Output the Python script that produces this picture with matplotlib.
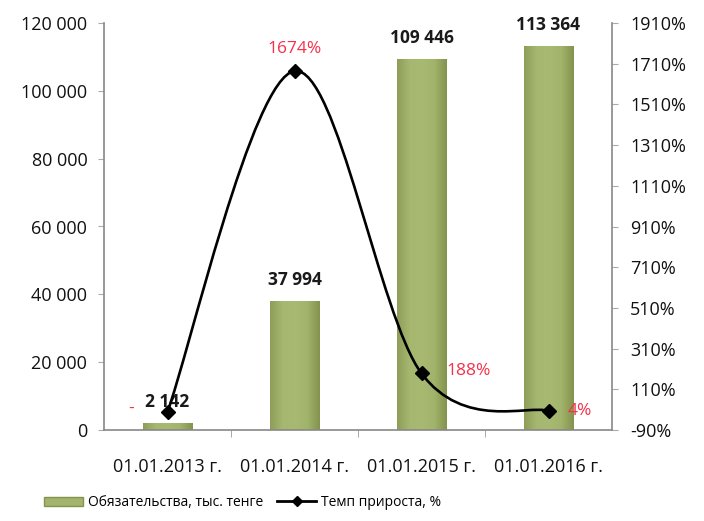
import matplotlib
matplotlib.use("Agg")
import matplotlib.pyplot as plt
import numpy as np
from matplotlib.path import Path
from matplotlib.patches import PathPatch, Patch
from matplotlib.lines import Line2D
from matplotlib.ticker import FuncFormatter, FixedLocator
from matplotlib.colors import LinearSegmentedColormap

plt.rcParams['font.family'] = ['Open Sans', 'DejaVu Sans']

categories = ["01.01.2013 г.", "01.01.2014 г.", "01.01.2015 г.", "01.01.2016 г."]
liabilities = [2142, 37994, 109446, 113364]
growth = [0, 1674, 188, 4]
growth_labels = ["-", "1674%", "188%", "4%"]
bar_name = "Обязательства, тыс. тенге"
line_name = "Темп прироста, %"

fig = plt.figure(figsize=(7.04, 5.21), dpi=100)
ax = fig.add_axes([104/704, 1-430/521, (612-104)/704, (430-23)/521])
ax2 = ax.twinx()

x = np.arange(len(categories))
bw = 0.39
bars = ax.bar(x, liabilities, width=bw, color="#A3B46C", edgecolor="none", zorder=2)

# gradient fill for bars
cmap = LinearSegmentedColormap.from_list("g", ["#8E9E5A", "#A6B76F", "#A8B972", "#A2B36B", "#84944F"])
grad = np.linspace(0, 1, 64).reshape(1, -1)
for b in bars:
    x0, y0, w, h = b.get_x(), b.get_y(), b.get_width(), b.get_height()
    im = ax.imshow(grad, extent=[x0, x0 + w, y0, y0 + h], aspect='auto', cmap=cmap,
                   zorder=2.1, interpolation='bicubic')
    im.set_clip_path(b)

ax.set_xlim(-0.5, len(categories) - 0.5)
ax.set_ylim(0, 120000)
ax.yaxis.set_major_locator(FixedLocator(np.arange(0, 120001, 20000)))
ax.yaxis.set_major_formatter(FuncFormatter(lambda v, p: f"{int(v):,}".replace(",", " ")))

ax.set_xticks(x)
ax.set_xticklabels(categories, fontsize=13, color="#111111")
ax.set_xticks(np.arange(0.5, len(categories) - 0.5, 1), minor=True)
ax.tick_params(axis='x', which='major', length=0, pad=20)
ax.tick_params(axis='x', which='minor', length=5, color="#999999", direction='out')
ax.tick_params(axis='y', length=4, color="#aaaaaa", labelsize=13, labelcolor="#111111", pad=8)

ax2.set_ylim(-90, 1910)
ax2.yaxis.set_major_locator(FixedLocator(np.arange(-90, 1911, 200)))
ax2.yaxis.set_major_formatter(FuncFormatter(lambda v, p: f"{int(round(v))}%"))
ax2.tick_params(axis='y', length=4, color="#aaaaaa", labelsize=13, labelcolor="#111111", pad=9)

for a in (ax, ax2):
    a.spines['top'].set_visible(False)
    for s in ('left', 'right', 'bottom'):
        a.spines[s].set_color("#888888")
        a.spines[s].set_linewidth(1.2)
ax.spines['right'].set_visible(False)
ax2.spines['left'].set_visible(False)
ax2.spines['bottom'].set_visible(False)

# smoothed line (Excel-like Bezier smoothing)
pts = np.column_stack([x, growth]).astype(float)
n = len(pts)
verts = [tuple(pts[0])]
codes = [Path.MOVETO]
for i in range(n - 1):
    pm = pts[i - 1] if i > 0 else pts[i]
    p0 = pts[i]
    p1 = pts[i + 1]
    p2 = pts[i + 2] if i + 2 < n else pts[i + 1]
    c1 = p0 + (p1 - pm) / 6.0
    c2 = p1 - (p2 - p0) / 6.0
    verts += [tuple(c1), tuple(c2), tuple(p1)]
    codes += [Path.CURVE4] * 3
ax2.add_patch(PathPatch(Path(verts, codes), facecolor='none', edgecolor='black', lw=1.9, zorder=4))
ax2.plot(x, growth, linestyle='none', marker='D', markersize=7.5, color='black', zorder=5)

# bar labels
for xi, v in zip(x, liabilities):
    ax.annotate(f"{v:,}".replace(",", " "), (xi, v), xytext=(0, 15), textcoords='offset points',
                ha='center', va='center', fontsize=12.5, fontweight='bold', color="#1a1a1a")

# growth labels
red = "#F5304A"
offsets = [(-26, 2), (0, 16), (18, 2), (14, 0)]
has = ['center', 'center', 'left', 'left']
for xi, v, lab, off, ha in zip(x, growth, growth_labels, offsets, has):
    ax2.annotate(lab, (xi, v), xytext=off, textcoords='offset points', ha=ha, va='center',
                 fontsize=12.5, color=red, zorder=6)

handles = [Patch(facecolor="#A3B46C", edgecolor="#84944F"),
           Line2D([], [], color='black', lw=2, marker='D', markersize=5)]
fig.legend(handles, [bar_name, line_name], loc='center left', bbox_to_anchor=(0.045, 0.035),
           ncol=2, frameon=False, fontsize=10, columnspacing=1.0, handlelength=2.8,
           handletextpad=0.35)

fig.savefig("out.png", dpi=100)
